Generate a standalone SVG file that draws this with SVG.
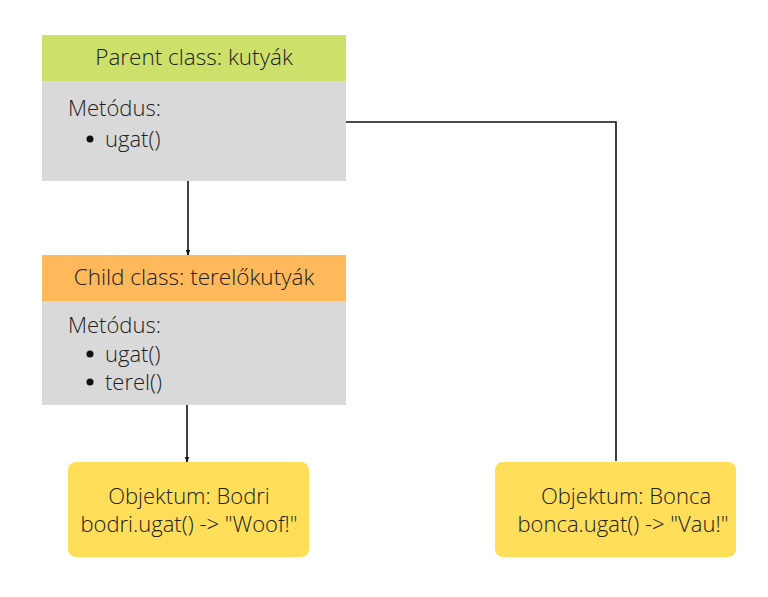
<svg xmlns="http://www.w3.org/2000/svg" width="768" height="597" viewBox="0 0 768 597">
<style>
text{font-family:"Open Sans","Liberation Sans",sans-serif;font-weight:300;fill:#222;font-size:22px}
.c{text-anchor:middle}
.h{font-size:22.5px}
.body{fill:#d9d9d9}
.obj{fill:#ffde59}
.ln{stroke:#111;stroke-width:1.6;fill:none}
</style>
<defs>
<marker id="ah" viewBox="0 0 10 10" refX="9" refY="5" markerWidth="6" markerHeight="6" orient="auto" markerUnits="userSpaceOnUse"><path d="M0,1 L10,5 L0,9 Z" fill="#111"/></marker>
</defs>
<rect width="768" height="597" fill="#fff"/>
<g id="connectors">
<line class="ln" x1="188" y1="181" x2="188" y2="255" marker-end="url(#ah)"/>
<line class="ln" x1="187" y1="405" x2="187" y2="462" marker-end="url(#ah)"/>
<polyline class="ln" points="346,122 616,122 616,461"/>
</g>
<g id="parent">
<rect x="42" y="35" width="304" height="46" fill="#cde16a"/>
<rect class="body" x="42" y="81" width="304" height="100"/>
<text class="c h" x="194" y="65">Parent class: kutyák</text>
<text x="68" y="116">Metódus:</text>
<circle cx="90" cy="139" r="3.5" fill="#111"/>
<text x="105" y="147">ugat()</text>
</g>
<g id="child">
<rect x="42" y="255" width="304" height="46" fill="#ffb85a"/>
<rect class="body" x="42" y="301" width="304" height="104"/>
<text class="c h" x="194" y="285">Child class: terelőkutyák</text>
<text x="68" y="333">Metódus:</text>
<circle cx="90" cy="354" r="3.5" fill="#111"/>
<text x="105" y="362">ugat()</text>
<circle cx="90" cy="382" r="3.5" fill="#111"/>
<text x="105" y="390">terel()</text>
</g>
<g id="bodri">
<rect class="obj" x="68" y="462" width="241" height="95" rx="8"/>
<text class="c" x="189" y="504">Objektum: Bodri</text>
<text class="c" x="189" y="532">bodri.ugat() -&gt; "Woof!"</text>
</g>
<g id="bonca">
<rect class="obj" x="495" y="462" width="241" height="95" rx="8"/>
<text class="c" x="626" y="504">Objektum: Bonca</text>
<text class="c" x="623" y="532">bonca.ugat() -&gt; "Vau!"</text>
</g>
</svg>
